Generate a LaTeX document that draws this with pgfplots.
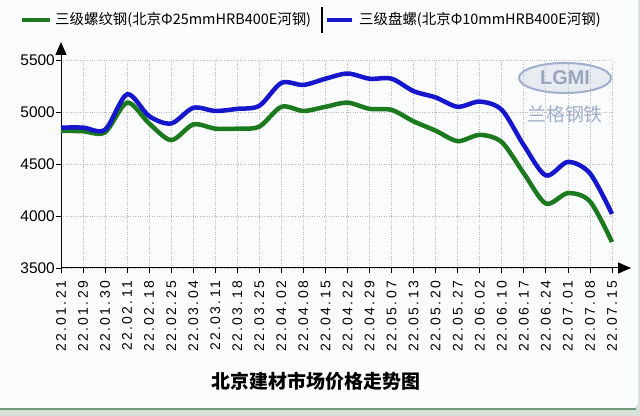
\documentclass[border=0pt]{standalone}
\usepackage{fontspec}
\usepackage{pgfplots}
\pgfplotsset{compat=1.18}
\usetikzlibrary{arrows.meta}
\setmainfont{Liberation Sans}
\newfontfamily\cjk{Noto Sans CJK SC}
\newfontfamily\ticksf[LetterSpace=16]{Liberation Sans}
\definecolor{lgreen}{RGB}{28,122,30}
\definecolor{lblue}{RGB}{22,22,205}
\definecolor{bg}{RGB}{250,251,253}
\definecolor{gridc}{RGB}{185,185,190}
\definecolor{wm}{RGB}{160,175,205}
\definecolor{shadow}{RGB}{215,225,218}
\definecolor{bline}{RGB}{110,155,120}
\begin{document}
\begin{tikzpicture}
\path[use as bounding box] (0bp,0bp) rectangle (640bp,416bp);
\fill[shadow] (0bp,0bp) rectangle (640bp,416bp);
\fill[bg, rounded corners=6bp] (-10bp,8bp) rectangle (638bp,426bp);
\draw[bline, line width=2.5bp] (0bp,7bp) -- (636bp,7bp);
% watermark
\draw[wm, line width=2bp, fill=wm!25] (565bp,338bp) ellipse (46bp and 15bp);
\node[font=\bfseries\fontsize{20}{20}\selectfont, text=wm!80!gray] at (565bp,338bp) {LGMI};
\node[font=\cjk\fontsize{19}{20}\selectfont, text=wm] at (565bp,302bp) {兰格钢铁};
\begin{axis}[
  at={(61bp,148bp)}, anchor=south west,
  scale only axis, width=551bp, height=208bp,
  xmin=0, xmax=25, ymin=3500, ymax=5500,
  axis lines=left,
  axis line style={line width=1bp, -{Triangle[length=13bp,width=11bp]}},
  x axis line style={shorten >=-19bp},
  y axis line style={shorten >=-18bp},
  xtick={0,...,25},
  xticklabels={22.01.21,22.01.29,22.01.30,22.02.11,22.02.18,22.02.25,22.03.04,22.03.11,22.03.18,22.03.25,22.04.02,22.04.08,22.04.15,22.04.22,22.04.29,22.05.07,22.05.13,22.05.20,22.05.27,22.06.02,22.06.10,22.06.17,22.06.24,22.07.01,22.07.08,22.07.15},
  ytick={3500,4000,4500,5000,5500},
  /pgf/number format/assume math mode=true,
  yticklabel style={font=\fontsize{15.5}{16}\selectfont, inner sep=1bp},
  xticklabel style={rotate=90, anchor=east, font=\ticksf\fontsize{14}{14}\selectfont, inner sep=2bp, xshift=-6bp},
  scaled y ticks=false,
  y tick label style={/pgf/number format/.cd, 1000 sep={}},
  tick align=outside,
  major tick length=5bp,
  tick style={black, line width=0.8bp},
  grid=major,
  grid style={dotted, gridc, line width=0.8bp},
  clip=false,
]
\addplot[lgreen, line width=4.5bp, smooth, tension=0.5] coordinates {
(0,4820) (1,4815) (2,4805) (3,5090) (4,4890) (5,4730) (6,4880) (7,4840) (8,4840) (9,4860)
(10,5050) (11,5010) (12,5050) (13,5090) (14,5030) (15,5020) (16,4910) (17,4820) (18,4720) (19,4780)
(20,4710) (21,4410) (22,4120) (23,4220) (24,4140) (25,3750)};
\addplot[lblue, line width=4.5bp, smooth, tension=0.5] coordinates {
(0,4850) (1,4850) (2,4830) (3,5170) (4,4960) (5,4890) (6,5040) (7,5010) (8,5030) (9,5060)
(10,5280) (11,5260) (12,5320) (13,5370) (14,5320) (15,5320) (16,5200) (17,5140) (18,5050) (19,5100)
(20,5020) (21,4680) (22,4390) (23,4520) (24,4410) (25,4020)};
\end{axis}
% legend
\draw[lgreen, line width=4bp] (22bp,396bp) -- (50bp,396bp);
\node[anchor=west, inner sep=0pt, font=\cjk\fontsize{14.5}{16}\selectfont] at (55bp,396bp) {三级螺纹钢(北京Φ25mmHRB400E河钢)};
\draw[black, line width=1.2bp] (322bp,383bp) -- (322bp,409bp);
\draw[lblue, line width=4bp] (327bp,396bp) -- (352bp,396bp);
\node[anchor=west, inner sep=0pt, font=\cjk\fontsize{14.5}{16}\selectfont] at (359bp,396bp) {三级盘螺(北京Φ10mmHRB400E河钢)};
% title
\node[font=\cjk\bfseries\fontsize{19}{22}\selectfont] at (316bp,35bp) {北京建材市场价格走势图};
\end{tikzpicture}
\end{document}
